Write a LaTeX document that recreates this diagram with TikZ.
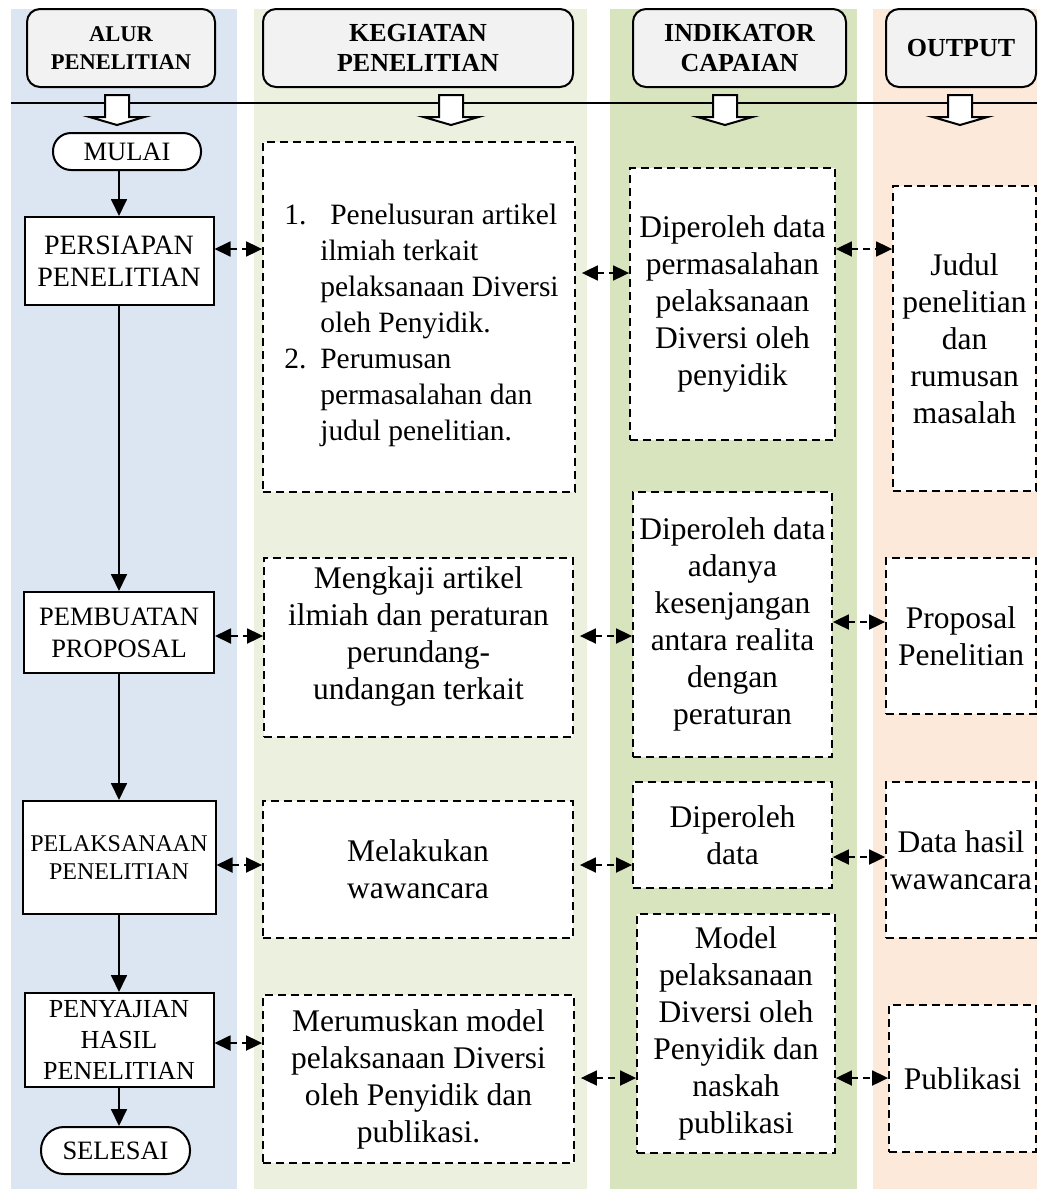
\documentclass[tikz,border=0pt]{standalone}
\usepackage{fontspec}
\setmainfont{Liberation Serif}
\usetikzlibrary{arrows.meta,calc}
\definecolor{colblue}{HTML}{DCE6F2}
\definecolor{colkeg}{HTML}{EBF1DE}
\definecolor{colind}{HTML}{D7E4BD}
\definecolor{colout}{HTML}{FDE9D9}
\definecolor{hdrfill}{HTML}{F2F2F2}
\begin{document}
\begin{tikzpicture}[x=1pt,y=-1pt,
 hdr/.style={draw, line width=2pt, rounded corners=13pt, fill=hdrfill, align=center,
   font=\bfseries\fontsize{26}{30}\selectfont, inner sep=0pt, minimum height=78pt},
 flowbox/.style={draw, line width=2pt, fill=white, align=center, inner sep=0pt},
 term/.style={flowbox, rounded corners=18pt},
 dbox/.style={draw, line width=1.8pt, dash pattern=on 8pt off 5pt, fill=white, align=center,
   inner sep=0pt, font=\fontsize{31.5}{37}\selectfont},
 bodytxt/.style={align=center, inner sep=0pt, font=\fontsize{31.5}{37}\selectfont},
 flow/.style={line width=1.8pt, -{Triangle[length=17pt,width=16pt]}},
 darr/.style={line width=1.8pt, dash pattern=on 7pt off 5pt,
   {Triangle[length=16pt,width=15pt]}-{Triangle[length=16pt,width=15pt]}},
 blk/.style={draw, line width=2pt, fill=white, line join=miter}
]
\useasboundingbox (0,0) rectangle (1037,1189);
% column backgrounds
\fill[colblue] (11,9) rectangle (237,1189);
\fill[colkeg] (254,9) rectangle (587,1189);
\fill[colind] (610,9) rectangle (857,1189);
\fill[colout] (873,9) rectangle (1037,1189);

% headers
\node[hdr, minimum width=188pt, font=\bfseries\fontsize{22.5}{28}\selectfont] (alurH) at (121,48) {ALUR\\PENELITIAN};
\node[hdr, minimum width=310pt] (kegH) at (418,48) {KEGIATAN\\PENELITIAN};
\node[hdr, minimum width=213pt] (indH) at (739.5,48) {INDIKATOR\\CAPAIAN};
\node[hdr, minimum width=150pt] (outH) at (961,48) {OUTPUT};

% horizontal rule and block arrows
\draw[line width=2pt] (11,103) -- (1037,103);
\foreach \cx in {117,451,725,960}{
  \draw[blk] (\cx-12,95) -- (\cx+12,95) -- (\cx+12,117) -- (\cx+27.5,117) -- (\cx,125)
     -- (\cx-27.5,117) -- (\cx-12,117) -- cycle;
}

% flowchart
\node[term, minimum width=148pt, minimum height=37pt, font=\fontsize{26.5}{31}\selectfont] (mulai) at (127,151.5) {MULAI};
\node[flowbox, minimum width=189pt, minimum height=88pt, font=\fontsize{28}{32}\selectfont] (persiapan) at (119,261) {PERSIAPAN\\PENELITIAN};
\node[flowbox, minimum width=190pt, minimum height=81pt, font=\fontsize{26.5}{32}\selectfont] (pembuatan) at (119,632.5) {PEMBUATAN\\PROPOSAL};
\node[flowbox, minimum width=193pt, minimum height=113pt, font=\fontsize{24}{28}\selectfont] (pelaksanaan) at (119,857.5) {PELAKSANAAN\\PENELITIAN};
\node[flowbox, minimum width=189pt, minimum height=94pt, font=\fontsize{26}{31}\selectfont] (penyajian) at (119,1040) {PENYAJIAN\\HASIL\\PENELITIAN};
\node[term, minimum width=149pt, minimum height=47pt, rounded corners=23pt, font=\fontsize{26.5}{31}\selectfont] (selesai) at (115.5,1150.5) {SELESAI};

\draw[flow] (mulai.south -| persiapan.north) -- (persiapan.north);
\draw[flow] (persiapan) -- (pembuatan);
\draw[flow] (pembuatan) -- (pelaksanaan);
\draw[flow] (pelaksanaan) -- (penyajian);
\draw[flow] (penyajian.south) -- (penyajian.south |- selesai.north);

% kegiatan boxes
\node[dbox, minimum width=312pt, minimum height=350pt] (keg1) at (419,317) {};
\node[anchor=west, align=left, inner sep=0pt, font=\fontsize{29.5}{36}\selectfont] (keg1txt) at ($(keg1.west)+(22,8)$)
 {\makebox[36pt][l]{1.}\hspace{10pt}Penelusuran artikel\\
  \hspace*{36pt}ilmiah terkait\\
  \hspace*{36pt}pelaksanaan Diversi\\
  \hspace*{36pt}oleh Penyidik.\\
  \makebox[36pt][l]{2.}Perumusan\\
  \hspace*{36pt}permasalahan dan\\
  \hspace*{36pt}judul penelitian.};
\node[dbox, minimum width=309pt, minimum height=179pt] (keg2) at (418.5,647.5) {};
\node[bodytxt] (keg2txt) at ($(keg2.center)+(0,-11)$) {Mengkaji artikel\\ilmiah dan peraturan\\perundang-\\undangan terkait};
\node[dbox, minimum width=310pt, minimum height=137pt] (keg3) at (418,869.5) {Melakukan\\wawancara};
\node[dbox, minimum width=311pt, minimum height=168pt] (keg4) at (418.5,1079) {Merumuskan model\\pelaksanaan Diversi\\oleh Penyidik dan\\publikasi.};

% indikator boxes
\node[dbox, minimum width=205pt, minimum height=272pt] (ind1) at (732.5,304) {Diperoleh data\\permasalahan\\pelaksanaan\\Diversi oleh\\penyidik};
\node[dbox, minimum width=199pt, minimum height=265pt] (ind2) at (732.5,624.5) {Diperoleh data\\adanya\\kesenjangan\\antara realita\\dengan\\peraturan};
\node[dbox, minimum width=199pt, minimum height=106pt] (ind3) at (732.5,835) {Diperoleh\\data};
\node[dbox, minimum width=198pt, minimum height=239pt] (ind4) at (736,1033.5) {Model\\pelaksanaan\\Diversi oleh\\Penyidik dan\\naskah\\publikasi};

% output boxes
\node[dbox, minimum width=143pt, minimum height=305pt] (out1) at (964.5,338.5) {Judul\\penelitian\\dan\\rumusan\\masalah};
\node[dbox, minimum width=150pt, minimum height=156pt] (out2) at (961,636) {Proposal\\Penelitian};
\node[dbox, minimum width=150pt, minimum height=156pt] (out3) at (961,860) {Data hasil\\wawancara};
\node[dbox, minimum width=147pt, minimum height=147pt] (out4) at (962.5,1078.5) {Publikasi};

% level coordinates for the double arrows
\coordinate (ya) at (0,249);
\coordinate (yb) at (0,273);
\coordinate (yc) at (0,636);
\coordinate (yd) at (0,622);
\coordinate (ye) at (0,865);
\coordinate (yf) at (0,857);
\coordinate (yg) at (0,1043);
\coordinate (yh) at (0,1078);

\draw[darr] (persiapan.east |- ya) -- (keg1.west |- ya);
\draw[darr, shorten <=6pt] (keg1.east |- yb) -- (ind1.west |- yb);
\draw[darr] (ind1.east |- ya) -- (out1.west |- ya);

\draw[darr] (pembuatan.east |- yc) -- (keg2.west |- yc);
\draw[darr, shorten <=6pt] (keg2.east |- yc) -- (ind2.west |- yc);
\draw[darr] (ind2.east |- yd) -- (out2.west |- yd);

\draw[darr] (pelaksanaan.east |- ye) -- (keg3.west |- ye);
\draw[darr, shorten <=6pt] (keg3.east |- ye) -- (ind3.west |- ye);
\draw[darr] (ind3.east |- yf) -- (out3.west |- yf);

\draw[darr] (penyajian.east |- yg) -- (keg4.west |- yg);
\draw[darr, shorten <=6pt] (keg4.east |- yh) -- (ind4.west |- yh);
\draw[darr] (ind4.east |- yh) -- (out4.west |- yh);
\end{tikzpicture}
\end{document}
